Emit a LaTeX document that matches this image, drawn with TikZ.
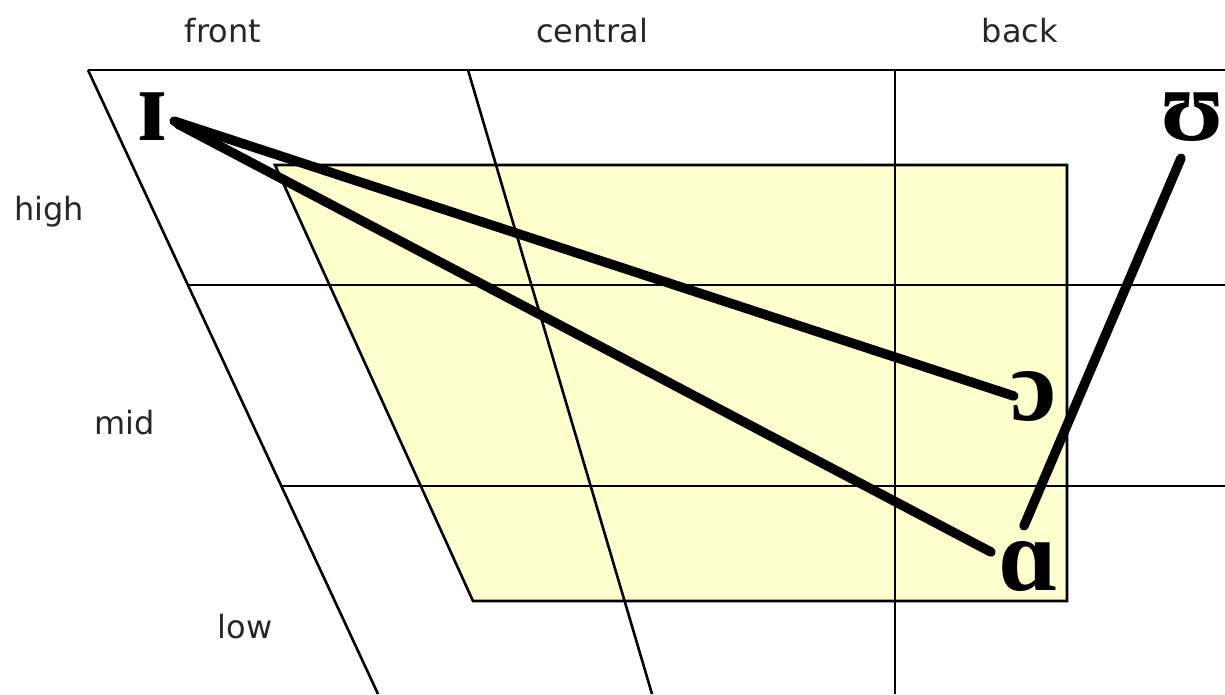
\documentclass[tikz,border=0pt]{standalone}
\usepackage{fontspec}
\setmainfont{DejaVu Sans}
\newfontfamily\ipafont{Liberation Serif}
\usetikzlibrary{calc}
\definecolor{paleyellow}{RGB}{255,255,206}
\tikzset{
  grid/.style={line width=2.6pt, black},
  tongue/.style={line width=9.5pt, black, line cap=round},
  lab/.style={anchor=base, inner sep=0pt, font=\fontsize{32}{34}\selectfont, text=black!85},
  sym/.style={anchor=base, inner sep=1pt, font=\ipafont\bfseries\fontsize{104}{104}\selectfont}
}
\begin{document}
\begin{tikzpicture}[x=1pt,y=-1pt]
\useasboundingbox (0,0) rectangle (1225,694);
% yellow region
\fill[paleyellow] (275,165) -- (1067,165) -- (1067,601) -- (473,601) -- cycle;
% grid
\draw[grid] (88,70) -- (1225,70);
\draw[grid] (88,70) -- (378,694);
\draw[grid] (468,70) -- (652,694);
\draw[grid] (895,70) -- (895,694);
\draw[grid] (188,285) -- (1225,285);
\draw[grid] (282,486) -- (1225,486);
% yellow box border
\draw[grid] (275,165) -- (1067,165) -- (1067,601) -- (473,601) -- cycle;
% labels
\node[lab] (front) at (223,42) {front};
\node[lab] (central) at (592,42) {central};
\node[lab] (back) at (1020,42) {back};
\node[lab] (high) at (49,220) {high};
\node[lab] (mid) at (125,434) {mid};
\node[lab] (low) at (245,638) {low};
% vowel symbols
\node[sym] (I) at (152,140) {ɪ};
\node[sym] (U) at (1193,140) {ʊ};
\node[sym] (O) at (1034,420) {ɔ};
\node[sym] (A) at (1028,590) {ɑ};
% diphthong trajectories
\draw[tongue] ($(I.east)+(6,5)$) -- ($(O.west)+(4,0)$);
\draw[tongue] ($(I.east)+(10,8)$) -- ($(A.west)+(-6,-14)$);
\draw[tongue] ($(U.south)+(-12,16)$) -- ($(A.north)+(-4,-14)$);
\end{tikzpicture}
\end{document}
